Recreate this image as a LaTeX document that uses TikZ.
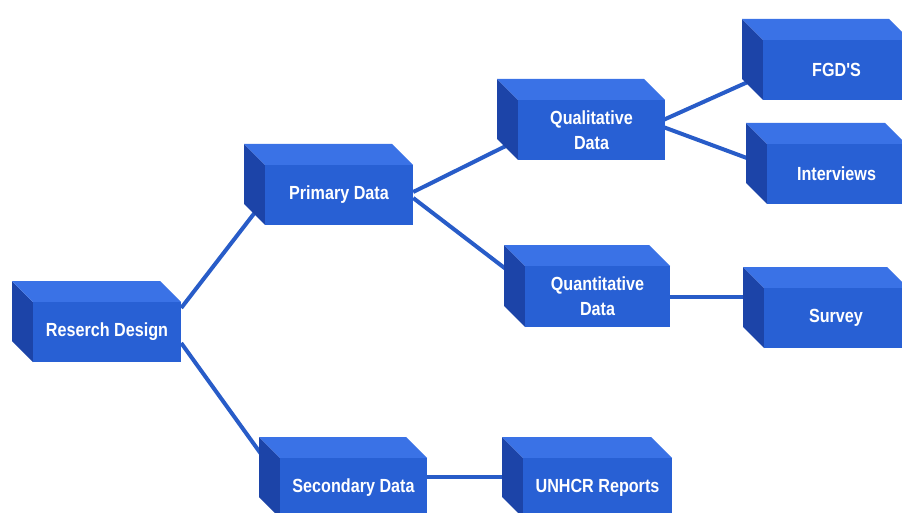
\documentclass[tikz,border=0pt]{standalone}
\usepackage{fontspec}
\usetikzlibrary{calc}
\newfontfamily\boxfont[FakeStretch=0.85]{Liberation Sans}

\definecolor{frontblue}{RGB}{40,96,212}
\definecolor{topblue}{RGB}{58,114,230}
\definecolor{sideblue}{RGB}{28,68,168}
\definecolor{linkblue}{RGB}{40,92,200}

\pgfdeclarelayer{bg}
\pgfsetlayers{bg,main}

\tikzset{
  frontface/.style={fill=frontblue, draw=none, inner sep=0pt, text=white,
    align=center, font=\boxfont\bfseries\fontsize{19}{25}\selectfont},
  topface/.style={fill=topblue},
  sideface/.style={fill=sideblue},
  link/.style={draw=linkblue, line width=4pt}
}

% 3D box: name, front face x0, y0, x1, y1, label (depth goes up and left)
\newcommand\cubebox[6]{%
  \fill[sideface] (#2-21,#3-21) -- (#2,#3) -- (#2,#5) -- (#2-21,#5-21) -- cycle;
  \fill[topface] (#2-21,#3-21) -- (#4-21,#3-21) -- (#4,#3) -- (#2,#3) -- cycle;
  \node[frontface, minimum width={#4pt-#2pt}, minimum height={#5pt-#3pt}]
    (#1) at ({(#2+#4)/2},{(#3+#5)/2}) {#6};
}

\begin{document}
\begin{tikzpicture}[x=1pt,y=-1pt]
  \useasboundingbox (0,0) rectangle (902,513);

  \cubebox{rd}{33}{302}{181}{362}{Reserch Design}
  \cubebox{pd}{265}{165}{413}{225}{Primary Data}
  \cubebox{sd}{280}{458}{427}{518}{Secondary Data}
  \cubebox{ql}{518}{100}{665}{160}{Qualitative\\Data}
  \cubebox{qn}{525}{266}{670}{327}{Quantitative\\Data}
  \cubebox{un}{523}{458}{672}{518}{UNHCR Reports}
  \cubebox{fgd}{763}{40}{910}{100}{FGD'S}
  \cubebox{iv}{767}{144}{906}{204}{Interviews}
  \cubebox{sv}{764}{288}{908}{348}{Survey}

  \begin{pgfonlayer}{bg}
    \draw[link] ($(rd.east)+(0,-24)$) -- ($(pd.west)+(-8,15)$);
    \draw[link] ($(rd.east)+(0,11)$) -- ($(sd.west)+(-18,-33)$);
    \draw[link] ($(pd.east)+(0,-3)$) -- ($(ql.west)+(-10,15)$);
    \draw[link] ($(pd.east)+(0,3)$) -- ($(qn.west)+(-17,-26)$);
    \draw[link] ($(ql.east)+(-2,-10)$) -- ($(fgd.west)+(-15,12)$);
    \draw[link] ($(ql.east)+(-2,-3)$) -- ($(iv.west)+(-20,-16)$);
    \draw[link] (qn.east) -- (qn.east -| sv.west);
    \draw[link] ($(sd.east)+(0,-11)$) coordinate (sdout) -- (sdout -| un.west);
  \end{pgfonlayer}
\end{tikzpicture}
\end{document}
